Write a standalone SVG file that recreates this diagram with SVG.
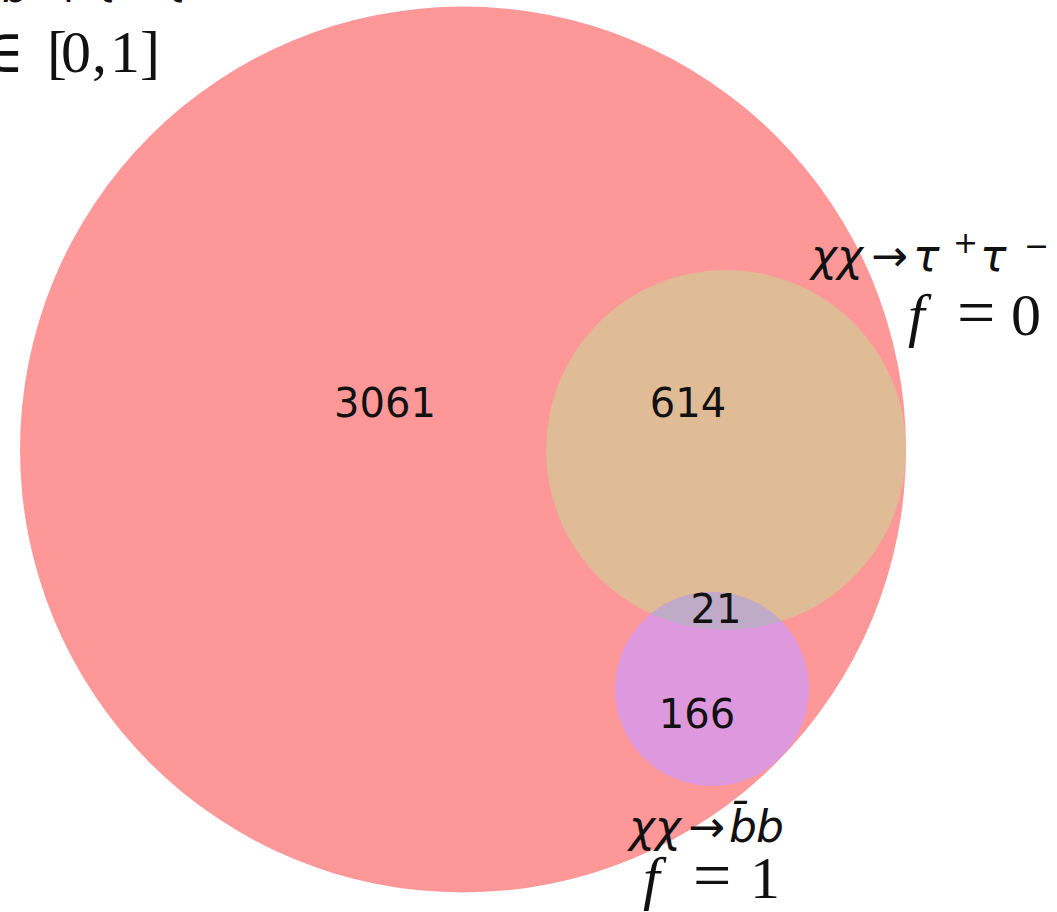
<svg xmlns="http://www.w3.org/2000/svg" width="1057" height="912" viewBox="0 0 1057 912">
<style>
.num{font-family:"DejaVu Sans",sans-serif;font-size:40px;fill:#111;text-anchor:middle;}
.lab{font-family:"DejaVu Sans",sans-serif;font-size:44px;fill:#111;}
.it{font-style:italic;}
.sup{font-size:30px;}
.tex{font-family:"Liberation Serif","DejaVu Serif",serif;font-size:60px;fill:#111;}
.eq{font-size:68px;}
</style>
<defs>
<clipPath id="clipOrange"><circle cx="726" cy="450" r="180"/></clipPath>
</defs>
<rect width="1057" height="912" fill="#ffffff"/>
<g id="set-all">
<circle cx="463" cy="449.5" r="443" fill="#fe9898"/>
<text class="lab" y="2"><tspan class="it" x="-112">χχ</tspan><tspan x="-58">→</tspan><tspan class="it" x="-20">b̄</tspan><tspan class="it" x="2">b</tspan><tspan x="50">+</tspan><tspan class="it" x="93">τ</tspan><tspan class="sup" x="130" y="-16">+</tspan><tspan class="it" x="163" y="2">τ</tspan><tspan class="sup" x="200" y="-14">−</tspan></text>
<text class="tex" y="72"><tspan x="-20">∈</tspan><tspan x="47">[</tspan><tspan x="61">0</tspan><tspan x="92">,</tspan><tspan x="110">1</tspan><tspan x="140">]</tspan></text>
</g>
<g id="set-tau">
<circle cx="726" cy="450" r="180" fill="#dfbb96"/>
<text class="lab" y="271"><tspan class="it" x="811">χχ</tspan><tspan x="871">→</tspan><tspan class="it" x="913">τ</tspan><tspan class="sup" x="953" y="253">+</tspan><tspan class="it" x="980" y="271">τ</tspan><tspan class="sup" x="1024" y="256">−</tspan></text>
<text class="tex" y="335"><tspan class="it" x="908">f</tspan><tspan class="eq" x="957">=</tspan><tspan x="1011">0</tspan></text>
</g>
<g id="set-bb">
<circle cx="712" cy="689" r="97" fill="#de98de"/>
<circle cx="712" cy="689" r="97" fill="#bfaac8" clip-path="url(#clipOrange)"/>
<text class="lab" y="842"><tspan class="it" x="629">χχ</tspan><tspan x="688">→</tspan><tspan class="it" x="729">b̄</tspan><tspan class="it" x="756">b</tspan></text>
<text class="tex" y="898"><tspan class="it" x="643">f</tspan><tspan class="eq" x="693">=</tspan><tspan x="750">1</tspan></text>
</g>
<g id="counts">
<text class="num" x="385" y="417">3061</text>
<text class="num" x="688" y="417">614</text>
<text class="num" x="716" y="623">21</text>
<text class="num" x="697" y="728">166</text>
</g>
</svg>
